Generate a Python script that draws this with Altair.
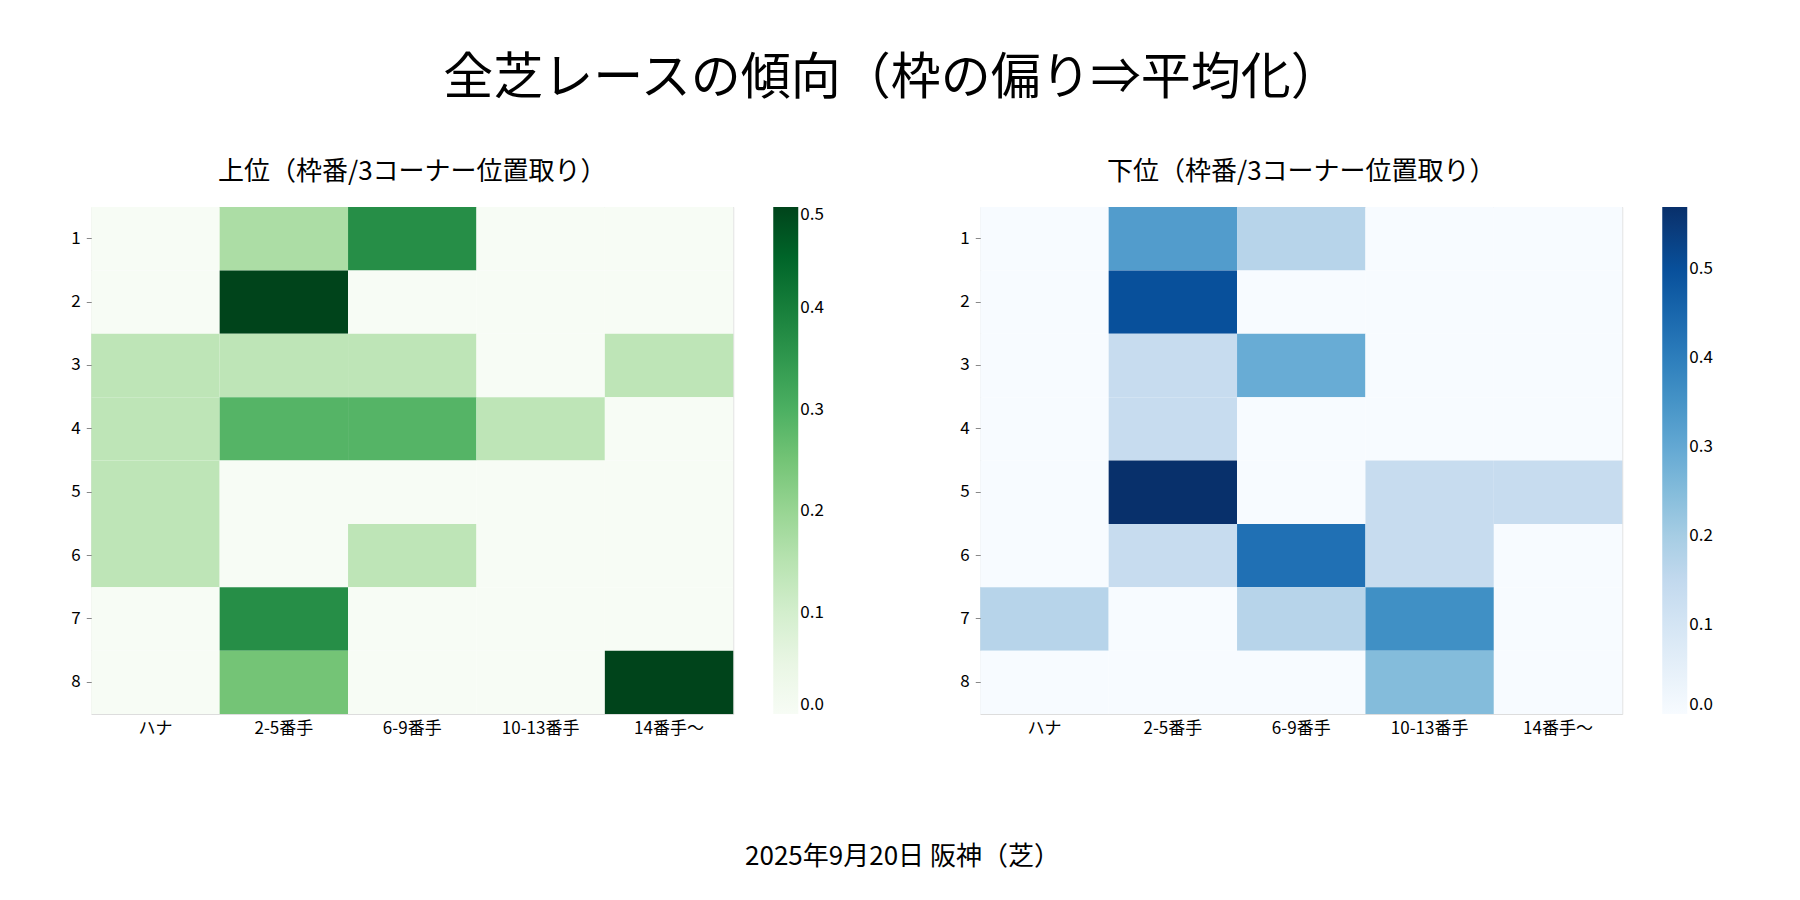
import altair as alt
import pandas as pd

FONT = "Noto Sans CJK JP"

positions = ["ハナ", "2-5番手", "6-9番手", "10-13番手", "14番手〜"]
frames = [1, 2, 3, 4, 5, 6, 7, 8]

upper = [
    [0.00, 0.17, 0.37, 0.00, 0.00],
    [0.00, 0.50, 0.00, 0.00, 0.00],
    [0.14, 0.14, 0.14, 0.00, 0.14],
    [0.14, 0.29, 0.29, 0.14, 0.00],
    [0.14, 0.00, 0.00, 0.00, 0.00],
    [0.14, 0.00, 0.14, 0.00, 0.00],
    [0.00, 0.37, 0.00, 0.00, 0.00],
    [0.00, 0.25, 0.00, 0.00, 0.50],
]
lower = [
    [0.00, 0.33, 0.17, 0.00, 0.00],
    [0.00, 0.50, 0.00, 0.00, 0.00],
    [0.00, 0.14, 0.29, 0.00, 0.00],
    [0.00, 0.14, 0.00, 0.00, 0.00],
    [0.00, 0.57, 0.00, 0.14, 0.14],
    [0.00, 0.14, 0.43, 0.14, 0.00],
    [0.17, 0.00, 0.17, 0.36, 0.00],
    [0.00, 0.00, 0.00, 0.25, 0.00],
]

# matplotlib colormaps
greens = ["#f7fcf5", "#e5f5e0", "#c7e9c0", "#a1d99b", "#74c476",
          "#41ab5d", "#238b45", "#006d2c", "#00441b"]
blues = ["#f7fbff", "#deebf7", "#c6dbef", "#9ecae1", "#6baed6",
         "#4292c6", "#2171b5", "#08519c", "#08306b"]


def to_frame(matrix):
    rows = []
    for f, vals in zip(frames, matrix):
        for p, v in zip(positions, vals):
            rows.append({"frame": f, "pos": p, "value": v})
    return pd.DataFrame(rows)


def heatmap(matrix, title, colors, dmax):
    return alt.Chart(to_frame(matrix)).mark_rect(
        stroke=None, strokeWidth=0
    ).encode(
        x=alt.X("pos:N", sort=positions, title=None,
                axis=alt.Axis(labelAngle=0, domain=False, labelPadding=6,
                              labelFontSize=17, labelFont=FONT, ticks=False)),
        y=alt.Y("frame:O", sort=frames, title=None,
                axis=alt.Axis(domain=False, labelPadding=6, labelFontSize=17,
                              labelFont=FONT)),
        color=alt.Color("value:Q",
                        scale=alt.Scale(range=colors, domain=[0, dmax]),
                        legend=alt.Legend(title=None, gradientLength=507,
                                          gradientThickness=25, tickCount=6,
                                          labelFontSize=17, offset=40,
                                          labelFont=FONT)),
    ).properties(width=642, height=507,
                 title=alt.TitleParams(title, fontSize=26, font=FONT,
                                       fontWeight="normal", offset=22))


left = heatmap(upper, "上位（枠番/3コーナー位置取り）", greens, 0.5)
right = heatmap(lower, "下位（枠番/3コーナー位置取り）", blues, 0.57)

panels = alt.hconcat(left, right, spacing=134).resolve_scale(color="independent")

footer = alt.Chart(pd.DataFrame({"t": ["2025年9月20日 阪神（芝）"]})).mark_text(
    fontSize=26, font=FONT
).encode(text="t:N").properties(width=1500, height=40)

chart = alt.vconcat(panels, footer, spacing=100, center=True).properties(
    title=alt.TitleParams("全芝レースの傾向（枠の偏り⇒平均化）", fontSize=50,
                          font=FONT, fontWeight="normal", anchor="middle",
                          offset=55)
).configure_view(stroke=None).configure_axis(
    labelColor="black", tickColor="black", tickSize=6
).configure(background="white", padding={"top": 45, "left": 62, "right": 20, "bottom": 20})

chart.save("out.html", embed_options={"renderer": "svg", "actions": False})
